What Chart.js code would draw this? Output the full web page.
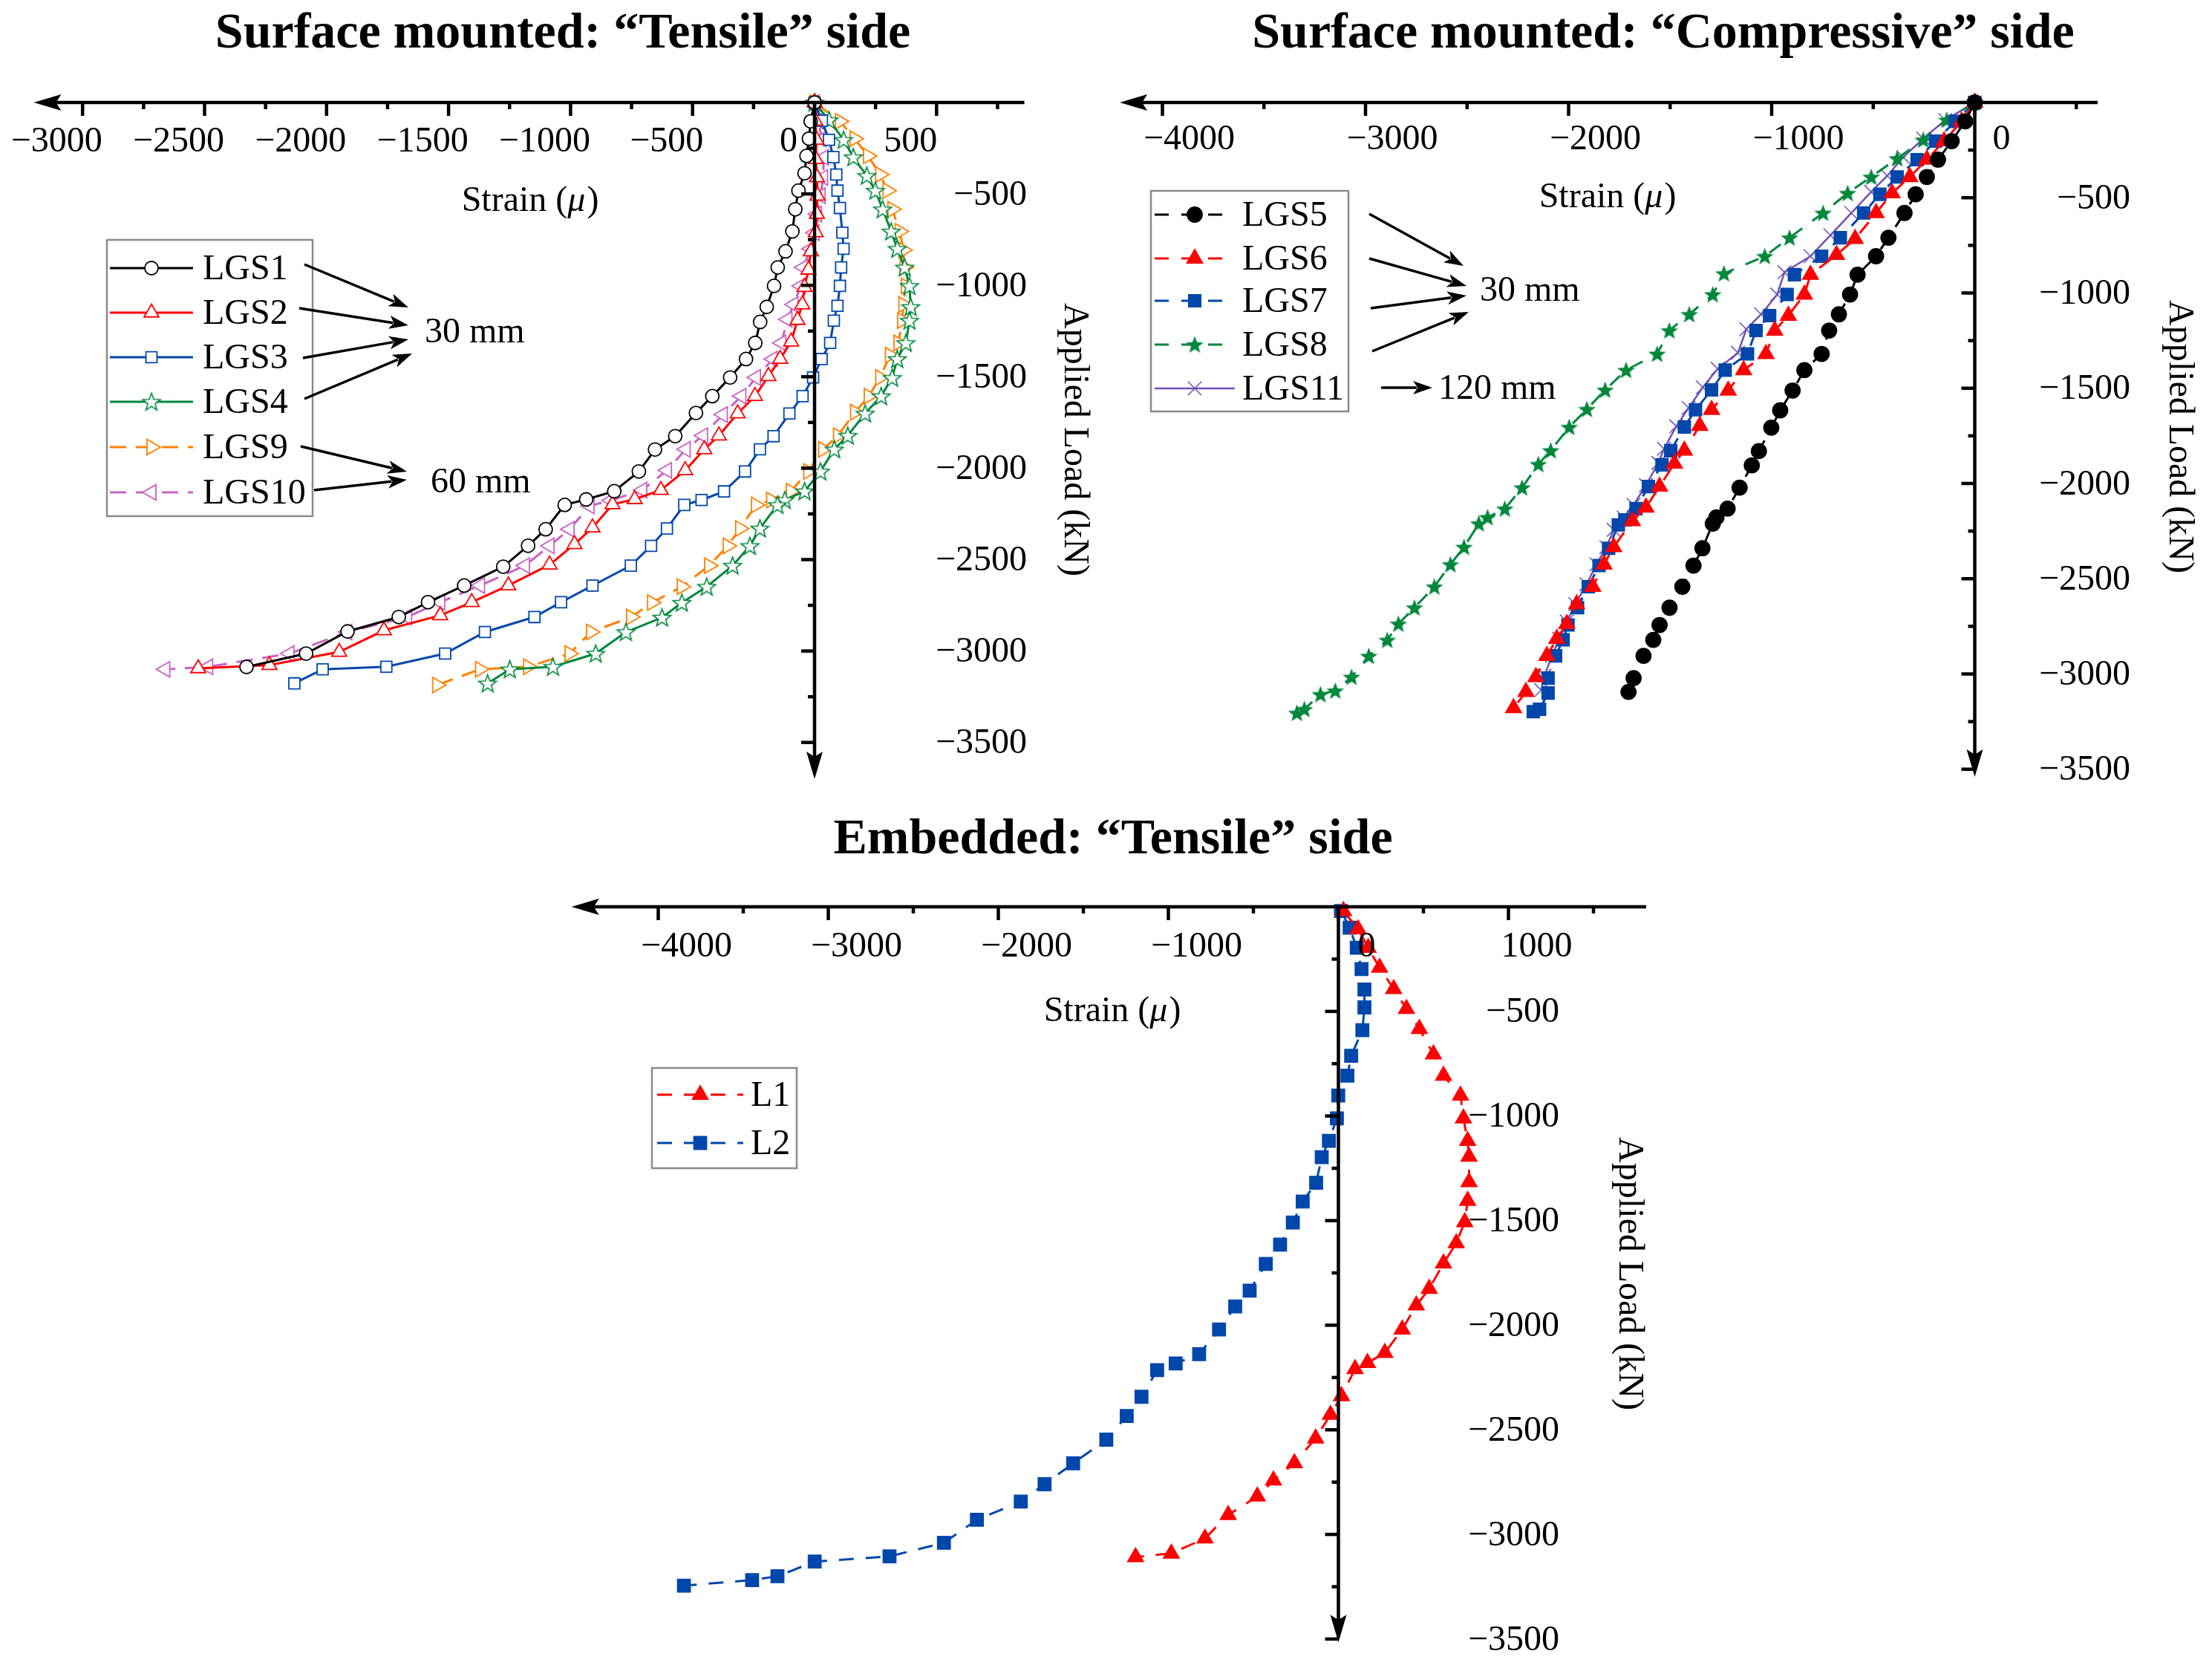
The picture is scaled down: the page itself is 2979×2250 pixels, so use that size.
<!DOCTYPE html>
<html>
<head>
<meta charset="utf-8">
<script src="https://cdn.jsdelivr.net/npm/chart.js@4.4.1/dist/chart.umd.min.js"></script>
<style>
  html, body { margin: 0; padding: 0; background: #fff; }
  #wrap { position: relative; width: 2979px; height: 2250px; }
  #wrap canvas { position: absolute; left: 0; top: 0; }
</style>
</head>
<body>
<div id="wrap">
  <canvas id="tl" width="2979" height="2250"></canvas>
  <canvas id="tr" width="2979" height="2250"></canvas>
  <canvas id="bt" width="2979" height="2250"></canvas>
</div>
<script>
// ---- data: surface mounted, tensile side (strain in micro, load in kN)
const LGS1_strain = [0,-16,-23,-33,-41,-66,-79,-91,-119,-151,-166,-196,-223,-243,-281,-346,-419,-486,-571,-654,-720,-821,-936,-1024,-1102,-1174,-1276,-1436,-1584,-1704,-1914,-2084,-2328];
const LGS1_load   = [0,-103,-198,-292,-387,-482,-584,-705,-814,-902,-1003,-1118,-1200,-1315,-1403,-1504,-1606,-1698,-1825,-1898,-2018,-2126,-2171,-2201,-2334,-2424,-2539,-2642,-2733,-2814,-2893,-3014,-3087];
const LGS2_strain = [0,3,8,5,10,12,10,5,-15,-25,-41,-50,-70,-96,-141,-189,-244,-315,-392,-452,-530,-630,-737,-828,-910,-984,-1086,-1255,-1405,-1534,-1765,-1948,-2234,-2526];
const LGS2_load   = [0,-100,-205,-310,-410,-510,-610,-710,-815,-915,-1010,-1105,-1190,-1308,-1403,-1497,-1606,-1701,-1822,-1897,-2012,-2120,-2170,-2198,-2325,-2416,-2528,-2642,-2733,-2805,-2887,-3005,-3077,-3095];
const LGS3_strain = [0,30,59,77,89,94,104,114,119,109,104,94,79,64,29,-6,-49,-103,-168,-224,-285,-371,-463,-534,-605,-670,-753,-910,-1039,-1148,-1351,-1514,-1755,-2016,-2132];
const LGS3_load   = [0,-100,-204,-299,-394,-482,-577,-712,-800,-902,-1003,-1112,-1193,-1315,-1403,-1504,-1606,-1701,-1825,-1897,-2018,-2127,-2174,-2201,-2330,-2425,-2533,-2642,-2733,-2814,-2896,-3014,-3086,-3100,-3177];
const LGS4_strain = [0,59,119,159,214,249,279,314,339,369,389,394,389,374,339,318,273,207,136,81,24,-41,-122,-152,-224,-265,-336,-442,-544,-625,-773,-897,-1072,-1249,-1340];
const LGS4_load   = [0,-96,-204,-299,-401,-482,-584,-705,-800,-902,-1003,-1118,-1193,-1315,-1403,-1506,-1606,-1701,-1822,-1897,-2018,-2126,-2174,-2201,-2330,-2425,-2533,-2648,-2736,-2817,-2896,-3014,-3086,-3100,-3177];
const LGS9_strain = [0,104,164,219,269,299,319,349,364,369,374,364,359,344,309,269,222,166,96,35,-26,-97,-178,-240,-305,-356,-432,-544,-666,-752,-916,-1004,-1174,-1371,-1547];
const LGS9_load   = [0,-103,-198,-292,-394,-482,-584,-705,-807,-902,-1003,-1105,-1193,-1315,-1382,-1504,-1606,-1694,-1822,-1897,-2018,-2126,-2174,-2201,-2330,-2425,-2533,-2648,-2735,-2814,-2896,-3014,-3086,-3100,-3186];
const LGS10_strain = [0,15,30,38,35,25,10,0,-16,-46,-56,-86,-111,-136,-171,-240,-300,-376,-457,-528,-605,-706,-835,-922,-1004,-1086,-1187,-1371,-1534,-1670,-1915,-2152,-2485,-2661];
const LGS10_load   = [0,-100,-200,-300,-410,-510,-610,-712,-800,-902,-1003,-1105,-1186,-1315,-1403,-1504,-1606,-1707,-1822,-1897,-2012,-2120,-2176,-2207,-2334,-2425,-2533,-2642,-2733,-2814,-2896,-3014,-3086,-3100];

// ---- data: surface mounted, compressive side
const LGS5_strain = [0,-47,-114,-181,-236,-291,-346,-425,-486,-577,-614,-669,-717,-754,-839,-897,-958,-1002,-1063,-1098,-1158,-1217,-1272,-1290,-1341,-1385,-1440,-1503,-1552,-1583,-1631,-1680,-1705];
const LGS5_load   = [0,-99,-203,-300,-391,-482,-580,-710,-807,-904,-1008,-1112,-1197,-1320,-1405,-1512,-1616,-1707,-1830,-1905,-2022,-2132,-2178,-2211,-2340,-2431,-2542,-2652,-2743,-2821,-2905,-3022,-3094];
const LGS6_strain = [0,-65,-151,-236,-320,-407,-486,-589,-681,-809,-839,-918,-985,-1028,-1138,-1214,-1296,-1354,-1430,-1479,-1552,-1619,-1686,-1778,-1826,-1881,-1960,-2009,-2058,-2107,-2161,-2210,-2271];
const LGS6_load   = [0,-99,-203,-300,-391,-476,-580,-716,-800,-904,-1008,-1119,-1197,-1320,-1405,-1512,-1613,-1697,-1827,-1895,-2016,-2126,-2197,-2334,-2425,-2542,-2633,-2737,-2815,-2905,-3016,-3094,-3179];
const LGS7_strain = [0,-96,-193,-284,-382,-467,-547,-662,-754,-888,-924,-1010,-1077,-1119,-1229,-1296,-1375,-1430,-1497,-1540,-1607,-1668,-1723,-1755,-1803,-1850,-1903,-1956,-2003,-2027,-2064,-2101,-2101,-2143,-2174];
const LGS7_load   = [0,-99,-203,-300,-391,-482,-580,-710,-807,-904,-1008,-1119,-1197,-1320,-1405,-1509,-1613,-1704,-1828,-1902,-2016,-2132,-2191,-2217,-2340,-2431,-2542,-2652,-2743,-2821,-2905,-3022,-3100,-3185,-3198];
const LGS8_strain = [0,-138,-254,-382,-510,-626,-747,-912,-1034,-1235,-1290,-1406,-1504,-1564,-1717,-1820,-1910,-1997,-2088,-2149,-2229,-2314,-2399,-2442,-2515,-2582,-2661,-2759,-2838,-2893,-2984,-3069,-3149,-3222,-3301,-3338];
const LGS8_load   = [0,-92,-196,-294,-391,-476,-580,-710,-807,-898,-1008,-1112,-1197,-1320,-1405,-1509,-1610,-1704,-1827,-1899,-2022,-2133,-2178,-2211,-2334,-2425,-2542,-2652,-2737,-2822,-2906,-3016,-3088,-3107,-3185,-3205];
const LGS11_strain = [0,-145,-254,-352,-431,-510,-608,-711,-809,-937,-973,-1052,-1125,-1166,-1266,-1339,-1409,-1470,-1530,-1558,-1619,-1680,-1729,-1778,-1814,-1863,-1912,-1967,-2009,-2046,-2082,-2119,-2135];
const LGS11_load   = [0,-92,-190,-287,-385,-469,-580,-697,-807,-891,-1008,-1112,-1190,-1314,-1398,-1495,-1603,-1700,-1818,-1892,-2009,-2113,-2178,-2243,-2334,-2425,-2529,-2633,-2724,-2815,-2905,-3009,-3085];

// ---- data: embedded, tensile side
const L1_strain = [30,116,175,242,325,400,476,559,618,718,735,760,768,768,760,743,693,618,534,458,375,273,171,98,18,-47,-134,-259,-382,-477,-648,-785,-983,-1193];
const L1_load   = [-20,-107,-196,-291,-393,-488,-583,-705,-807,-902,-1011,-1119,-1194,-1316,-1405,-1507,-1608,-1704,-1826,-1905,-2020,-2132,-2180,-2209,-2339,-2428,-2541,-2659,-2742,-2818,-2907,-3019,-3091,-3108];
const L2_strain = [15,66,108,136,153,153,141,75,53,-1,-9,-56,-98,-131,-210,-268,-343,-427,-522,-607,-702,-819,-957,-1066,-1158,-1245,-1365,-1560,-1728,-1868,-2126,-2320,-2640,-3080,-3299,-3448,-3849];
const L2_load   = [-20,-100,-196,-298,-395,-481,-590,-712,-807,-902,-1011,-1119,-1197,-1319,-1409,-1509,-1615,-1707,-1835,-1910,-2020,-2138,-2183,-2215,-2342,-2434,-2547,-2660,-2760,-2843,-2930,-3040,-3105,-3130,-3200,-3218,-3245];

// ---- tick labels
const tlStrainTicks = [-3000,-2500,-2000,-1500,-1000,-500,0,500];
const trStrainTicks = [-4000,-3000,-2000,-1000,0];
const btStrainTicks = [-4000,-3000,-2000,-1000,0,1000];
const loadTicks = [-500,-1000,-1500,-2000,-2500,-3000,-3500];

const W = 2979, H = 2250;
const FONT = '"Liberation Serif", "Times New Roman", serif';
const RED = '#ff0000', BLUE = '#0047ab', GREEN = '#00873c', ORANGE = '#ff8000', PINK = '#c962c4', PURPLE = '#6e52b4';

function pts(xs, ys) {
  return xs.map((v, i) => ({ x: v, y: ys[i] }));
}

function starImage(r, color, filled) {
  const c = document.createElement('canvas');
  c.width = c.height = Math.ceil(2 * r + 4);
  const g = c.getContext('2d');
  const cx = c.width / 2, cy = c.height / 2 + r * 0.08;
  g.beginPath();
  for (let k = 0; k < 10; k++) {
    const rr = k % 2 === 0 ? r : r * 0.42;
    const a = -Math.PI / 2 + k * Math.PI / 5;
    const px = cx + rr * Math.cos(a), py = cy + rr * Math.sin(a);
    if (k === 0) g.moveTo(px, py); else g.lineTo(px, py);
  }
  g.closePath();
  if (filled) { g.fillStyle = color; g.fill(); }
  else { g.fillStyle = '#fff'; g.fill(); g.strokeStyle = color; g.lineWidth = 1.7; g.stroke(); }
  return c;
}

const starOpen = starImage(12.5, GREEN, false);
const starFull = starImage(12.5, GREEN, true);

function series(label, xs, ys, o) {
  return Object.assign({
    label: label,
    data: pts(xs, ys),
    showLine: true,
    tension: 0,
    clip: false,
    fill: false,
    borderWidth: 3,
    pointBorderWidth: 1.8
  }, o);
}

// marker for legends, same shapes as chart points
function marker(ctx, d, x, y) {
  const st = d.pointStyle;
  if (st instanceof HTMLCanvasElement) {
    ctx.drawImage(st, x - st.width / 2, y - st.height / 2);
    return;
  }
  const r = d.pointRadius;
  const rot = (d.pointRotation || 0) * Math.PI / 180;
  ctx.save();
  ctx.translate(x, y);
  ctx.rotate(rot);
  ctx.beginPath();
  if (st === 'circle') {
    ctx.arc(0, 0, r, 0, Math.PI * 2);
  } else if (st === 'triangle') {
    for (let k = 0; k < 3; k++) {
      const a = k * 2 * Math.PI / 3;
      const px = Math.sin(a) * r, py = -Math.cos(a) * r;
      if (k === 0) ctx.moveTo(px, py); else ctx.lineTo(px, py);
    }
    ctx.closePath();
  } else if (st === 'rect') {
    const s = r / Math.SQRT2;
    ctx.rect(-s, -s, 2 * s, 2 * s);
  } else if (st === 'crossRot') {
    const s = r * Math.SQRT1_2;
    ctx.moveTo(-s, -s); ctx.lineTo(s, s);
    ctx.moveTo(-s, s); ctx.lineTo(s, -s);
  }
  if (st !== 'crossRot') { ctx.fillStyle = d.pointBackgroundColor; ctx.fill(); }
  ctx.strokeStyle = d.pointBorderColor;
  ctx.lineWidth = d.pointBorderWidth;
  ctx.stroke();
  ctx.restore();
}

function arrow(ctx, x1, y1, x2, y2) {
  const a = Math.atan2(y2 - y1, x2 - x1);
  const L = 26, Wd = 9;
  ctx.save();
  ctx.strokeStyle = '#000';
  ctx.fillStyle = '#000';
  ctx.lineWidth = 3.5;
  ctx.beginPath();
  ctx.moveTo(x1, y1);
  ctx.lineTo(x2 - Math.cos(a) * L * 0.8, y2 - Math.sin(a) * L * 0.8);
  ctx.stroke();
  ctx.translate(x2, y2);
  ctx.rotate(a);
  ctx.beginPath();
  ctx.moveTo(0, 0);
  ctx.lineTo(-L, -Wd);
  ctx.lineTo(-L * 0.75, 0);
  ctx.lineTo(-L, Wd);
  ctx.closePath();
  ctx.fill();
  ctx.restore();
}

function fmt(v) {
  return v < 0 ? '\u2212' + Math.abs(v) : String(v);
}

function strainTitle(ctx, cx, cy) {
  const a = 'Strain (', m = '\u03bc', b = ')';
  ctx.font = '48px ' + FONT;
  const wa = ctx.measureText(a).width, wb = ctx.measureText(b).width;
  ctx.font = 'italic 48px ' + FONT;
  const wm = ctx.measureText(m).width;
  let x = cx - (wa + wm + wb) / 2;
  ctx.textAlign = 'left';
  ctx.textBaseline = 'middle';
  ctx.font = '48px ' + FONT;
  ctx.fillText(a, x, cy); x += wa;
  ctx.font = 'italic 48px ' + FONT;
  ctx.fillText(m, x, cy); x += wm + 2;
  ctx.font = '48px ' + FONT;
  ctx.fillText(b, x, cy);
}

// draws axes through the origin, ticks, labels, legend and notes
function decorPlugin(p) {
  return {
    id: 'decor',
    afterDatasetsDraw(chart) {
      const ctx = chart.ctx;
      const xs = chart.scales.x, ys = chart.scales.y;
      const X0 = xs.getPixelForValue(0), Y0 = ys.getPixelForValue(0);
      const xL = xs.getPixelForValue(p.xMin), xR = xs.getPixelForValue(p.xMax);
      const yB = ys.getPixelForValue(p.yMin);
      ctx.save();
      ctx.strokeStyle = '#000';
      ctx.fillStyle = '#000';
      ctx.lineWidth = 4.5;
      ctx.lineCap = 'butt';
      // horizontal axis + left arrow
      ctx.beginPath();
      ctx.moveTo(xL + 20, Y0); ctx.lineTo(xR, Y0);
      ctx.stroke();
      ctx.beginPath();
      ctx.moveTo(xL, Y0); ctx.lineTo(xL + 37, Y0 - 11); ctx.lineTo(xL + 30, Y0); ctx.lineTo(xL + 37, Y0 + 11);
      ctx.closePath(); ctx.fill();
      // vertical axis + down arrow
      ctx.beginPath();
      ctx.moveTo(X0, Y0 - 2); ctx.lineTo(X0, yB - 20);
      ctx.stroke();
      ctx.beginPath();
      ctx.moveTo(X0, yB); ctx.lineTo(X0 - 11, yB - 37); ctx.lineTo(X0, yB - 30); ctx.lineTo(X0 + 11, yB - 37);
      ctx.closePath(); ctx.fill();
      // ticks
      ctx.lineWidth = 4.5;
      for (let v = p.xTickFrom; v <= p.xTickTo; v += p.xMinor) {
        const major = Math.abs(v % p.xMajor) < 1e-6;
        const px = xs.getPixelForValue(v);
        ctx.beginPath(); ctx.moveTo(px, Y0); ctx.lineTo(px, Y0 + (major ? 18 : 9)); ctx.stroke();
      }
      for (let v = -250; v >= -3500; v -= 250) {
        const major = v % 500 === 0;
        const py = ys.getPixelForValue(v);
        ctx.beginPath(); ctx.moveTo(X0, py); ctx.lineTo(X0 - (major ? 18 : 9), py); ctx.stroke();
      }
      // tick labels
      ctx.font = '48px ' + FONT;
      ctx.textBaseline = 'middle';
      ctx.textAlign = 'center';
      p.xLabels.forEach(v => ctx.fillText(fmt(v), xs.getPixelForValue(v) + p.xLabelDx, Y0 + p.xLabelDy));
      ctx.textAlign = 'right';
      loadTicks.forEach(v => ctx.fillText(fmt(v), p.yLabelRight, ys.getPixelForValue(v) + 2));
      // axis titles
      strainTitle(ctx, p.strainAt[0], p.strainAt[1]);
      ctx.save();
      ctx.translate(p.loadAt[0], p.loadAt[1]);
      ctx.rotate(Math.PI / 2);
      ctx.font = '48px ' + FONT;
      ctx.textAlign = 'center';
      ctx.textBaseline = 'middle';
      ctx.fillText('Applied Load (kN)', 0, 0);
      ctx.restore();
      // panel title
      ctx.font = 'bold 68px ' + FONT;
      ctx.textAlign = 'center';
      ctx.textBaseline = 'middle';
      ctx.fillText(p.title, p.titleAt[0], p.titleAt[1]);
      // legend
      const lg = p.legend;
      ctx.strokeStyle = '#8a8a8a';
      ctx.lineWidth = 2.5;
      ctx.strokeRect(lg.box[0], lg.box[1], lg.box[2] - lg.box[0], lg.box[3] - lg.box[1]);
      chart.data.datasets.forEach((d, i) => {
        const y = lg.rows[i];
        ctx.save();
        ctx.strokeStyle = d.borderColor;
        ctx.lineWidth = d.borderWidth;
        ctx.setLineDash(d.borderDash || []);
        ctx.beginPath();
        ctx.moveTo(lg.line[0], y);
        ctx.lineTo(d.legendEnd || lg.line[1], y);
        ctx.stroke();
        ctx.restore();
        marker(ctx, d, lg.mark, y);
        ctx.fillStyle = '#000';
        ctx.font = '48px ' + FONT;
        ctx.textAlign = 'left';
        ctx.textBaseline = 'middle';
        ctx.fillText(d.label, lg.text, y + 2);
      });
      // notes
      (p.arrows || []).forEach(a => arrow(ctx, a[0], a[1], a[2], a[3]));
      ctx.fillStyle = '#000';
      ctx.font = '48px ' + FONT;
      ctx.textAlign = 'left';
      ctx.textBaseline = 'middle';
      (p.notes || []).forEach(n => ctx.fillText(n[0], n[1], n[2]));
      ctx.restore();
    }
  };
}

function makePanel(id, p, datasets) {
  const left = p.x0 + p.xMin * p.sx;
  const right = p.x0 + p.xMax * p.sx;
  const bottom = p.y0 - p.yMin * p.sy;
  return new Chart(document.getElementById(id), {
    type: 'scatter',
    data: { datasets: datasets },
    options: {
      responsive: false,
      animation: false,
      devicePixelRatio: 1,
      layout: { padding: { left: left, top: p.y0, right: W - right, bottom: H - bottom } },
      plugins: { legend: { display: false }, tooltip: { enabled: false } },
      scales: {
        x: { type: 'linear', display: false, min: p.xMin, max: p.xMax },
        y: { type: 'linear', display: false, min: p.yMin, max: 0 }
      }
    },
    plugins: [decorPlugin(p)]
  });
}

const open = '#ffffff';

makePanel('tl', {
  x0: 1097, sx: 0.3286, y0: 138, sy: 0.2462, xMin: -3200, xMax: 860, yMin: -3700,
  xTickFrom: -3000, xTickTo: 750, xMinor: 250, xMajor: 500,
  xLabels: tlStrainTicks, xLabelDx: -35, xLabelDy: 53, yLabelRight: 1383,
  strainAt: [713, 271], loadAt: [1447, 592],
  title: 'Surface mounted: \u201cTensile\u201d side', titleAt: [758, 46],
  legend: { box: [144, 323, 421, 695], rows: [361, 421, 481, 541, 602, 663], line: [148, 260], mark: 204, text: 273 },
  arrows: [[410, 356, 550, 414], [403, 415, 550, 438], [408, 482, 550, 457], [410, 537, 555, 476], [405, 601, 548, 635], [423, 660, 548, 646]],
  notes: [['30 mm', 572, 448], ['60 mm', 580, 650]]
}, [
  series('LGS1', LGS1_strain, LGS1_load, { borderColor: '#000', pointStyle: 'circle', pointRadius: 9, pointBackgroundColor: open, pointBorderColor: '#000' }),
  series('LGS2', LGS2_strain, LGS2_load, { borderColor: RED, pointStyle: 'triangle', pointRadius: 11.5, pointBackgroundColor: open, pointBorderColor: RED }),
  series('LGS3', LGS3_strain, LGS3_load, { borderColor: BLUE, pointStyle: 'rect', pointRadius: 10.5, pointBackgroundColor: open, pointBorderColor: BLUE }),
  series('LGS4', LGS4_strain, LGS4_load, { borderColor: GREEN, pointStyle: starOpen, pointRadius: 11, pointBackgroundColor: open, pointBorderColor: GREEN }),
  series('LGS9', LGS9_strain, LGS9_load, { borderColor: ORANGE, borderDash: [22, 13], pointStyle: 'triangle', pointRotation: 90, pointRadius: 12, pointBackgroundColor: open, pointBorderColor: ORANGE }),
  series('LGS10', LGS10_strain, LGS10_load, { borderColor: PINK, borderDash: [22, 13], pointStyle: 'triangle', pointRotation: -90, pointRadius: 12, pointBackgroundColor: open, pointBorderColor: PINK })
]);

makePanel('tr', {
  x0: 2659.5, sx: 0.2735, y0: 138, sy: 0.2565, xMin: -4210, xMax: 605, yMin: -3540,
  xTickFrom: -4000, xTickTo: 500, xMinor: 500, xMajor: 1000,
  xLabels: trStrainTicks, xLabelDx: 36, xLabelDy: 50, yLabelRight: 2869,
  strainAt: [2164, 266], loadAt: [2935, 588],
  title: 'Surface mounted: \u201cCompressive\u201d side', titleAt: [2240, 46],
  legend: { box: [1550, 257, 1816, 554], rows: [289, 348, 405, 464, 523], line: [1555, 1655], mark: 1609, text: 1673 },
  arrows: [[1844, 288, 1971, 358], [1844, 348, 1975, 385], [1846, 415, 1975, 398], [1848, 473, 1978, 420], [1860, 522, 1929, 522]],
  notes: [['30 mm', 1993, 392], ['120 mm', 1937, 524]]
}, [
  series('LGS5', LGS5_strain, LGS5_load, { borderColor: '#000', borderDash: [19, 17], pointStyle: 'circle', pointRadius: 10, pointBackgroundColor: '#000', pointBorderColor: '#000' }),
  series('LGS6', LGS6_strain, LGS6_load, { borderColor: RED, borderDash: [19, 17], pointStyle: 'triangle', pointRadius: 12, pointBackgroundColor: RED, pointBorderColor: RED }),
  series('LGS7', LGS7_strain, LGS7_load, { borderColor: BLUE, borderDash: [19, 17], pointStyle: 'rect', pointRadius: 11.5, pointBackgroundColor: BLUE, pointBorderColor: BLUE }),
  series('LGS8', LGS8_strain, LGS8_load, { borderColor: GREEN, borderDash: [19, 17], pointStyle: starFull, pointRadius: 11, pointBackgroundColor: GREEN, pointBorderColor: GREEN }),
  series('LGS11', LGS11_strain, LGS11_load, { borderColor: PURPLE, borderWidth: 2.5, pointStyle: 'crossRot', pointRadius: 13, pointBorderWidth: 1.5, pointBackgroundColor: PURPLE, pointBorderColor: PURPLE, legendEnd: 1663 })
]);

makePanel('bt', {
  x0: 1802.5, sx: 0.229, y0: 1221, sy: 0.2817, xMin: -4510, xMax: 1810, yMin: -3515,
  xTickFrom: -4000, xTickTo: 1500, xMinor: 500, xMajor: 1000,
  xLabels: btStrainTicks, xLabelDx: 38, xLabelDy: 54, yLabelRight: 2100,
  strainAt: [1497, 1362], loadAt: [2194, 1715],
  title: 'Embedded: \u201cTensile\u201d side', titleAt: [1499, 1131],
  legend: { box: [878, 1438, 1073, 1573], rows: [1474, 1539], line: [885, 1001], mark: 943, text: 1011 }
}, [
  series('L1', L1_strain, L1_load, { borderColor: RED, borderDash: [20, 16], pointStyle: 'triangle', pointRadius: 12, pointBackgroundColor: RED, pointBorderColor: RED }),
  series('L2', L2_strain, L2_load, { borderColor: BLUE, borderDash: [20, 16], pointStyle: 'rect', pointRadius: 12, pointBackgroundColor: BLUE, pointBorderColor: BLUE })
]);
</script>
</body>
</html>
